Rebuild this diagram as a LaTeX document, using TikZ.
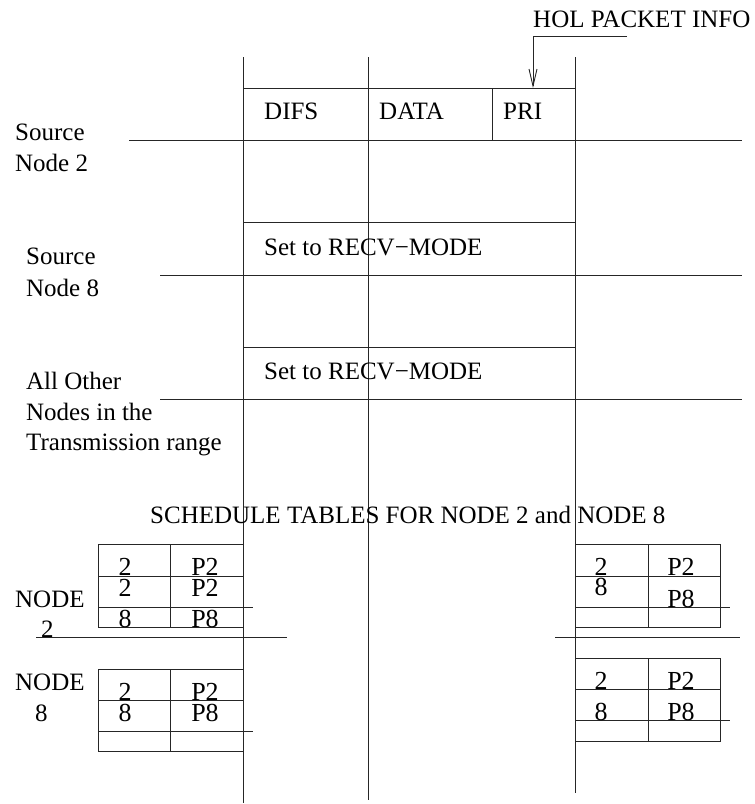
\documentclass[tikz,border=0pt]{standalone}
\usepackage{fontspec}
\setmainfont{Liberation Serif}
\usetikzlibrary{arrows.meta}
\begin{document}
\begin{tikzpicture}[x=1pt,y=-1pt,
  txt/.style={anchor=base west,inner sep=0pt,font=\fontsize{25}{29}\selectfont},
  ctxt/.style={anchor=base,inner sep=0pt,font=\fontsize{26}{30}\selectfont},
  ln/.style={line width=0.9pt,black!85},
  arr/.style={ln,-{Straight Barb[length=17pt,width=8pt]}}]
\useasboundingbox (0,0) rectangle (755,804);
% time lines (vertical)
\draw[ln] (243,57) -- (243,803);
\draw[ln] (368,57) -- (368,800);
\draw[ln] (575,57) -- (575,793);
% Source node 2 row
\draw[ln] (243,88) rectangle (575,140);
\draw[ln] (492,88) -- (492,140);
\draw[ln] (129,140) -- (742,140);
% Source node 8 row
\draw[ln] (243,222) rectangle (575,275);
\draw[ln] (160,275) -- (742,275);
% All other nodes row
\draw[ln] (243,347) rectangle (575,399);
\draw[ln] (160,399) -- (742,399);
% HOL arrow
\node[txt] (hol) at (533,27) {HOL PACKET INFO};
\coordinate (holA) at (627,36);
\coordinate (holB) at (533,36);
\coordinate (pritop) at (533,88);
\draw[arr] (holA) -- (holB) -- (pritop);
% box texts
\node[txt] (difs) at (264,119) {DIFS};
\node[txt] (data) at (379,119) {DATA};
\node[txt] (pri) at (503,119) {PRI};
\node[txt] (recv1) at (264,255) {Set to RECV−MODE};
\node[txt] (recv2) at (264,379) {Set to RECV−MODE};
% row labels
\node[txt] (s2a) at (15,140) {Source};
\node[txt] (s2b) at (15,171) {Node 2};
\node[txt] (s8a) at (26,264) {Source};
\node[txt] (s8b) at (26,296) {Node 8};
\node[txt] (oa) at (26,389) {All Other};
\node[txt] (ob) at (26,420) {Nodes in the};
\node[txt] (oc) at (26,450) {Transmission range};
% schedule title
\node[txt] (sched) at (150,523) {SCHEDULE TABLES FOR NODE 2 and NODE 8};
% node labels
\node[txt] (n2a) at (15,607) {NODE};
\node[txt] (n2b) at (41,637) {2};
\node[txt] (n8a) at (15,690) {NODE};
\node[txt] (n8b) at (35,721) {8};
\draw[ln] (36,637) -- (287,637);
\draw[ln] (555,637) -- (740,637);
% left table node 2
\draw[ln] (98,544) rectangle (243,627);
\draw[ln] (170,544) -- (170,627);
\draw[ln] (98,576) -- (243,576);
\draw[ln] (98,607) -- (253,607);
\node[ctxt] (l2a) at (125,575) {2};
\node[ctxt] (l2b) at (205,575) {P2};
\node[ctxt] (l2c) at (125,596) {2};
\node[ctxt] (l2d) at (205,596) {P2};
\node[ctxt] (l2e) at (125,627) {8};
\node[ctxt] (l2f) at (205,627) {P8};
% right table node 2
\draw[ln] (575,544) rectangle (720,627);
\draw[ln] (648,544) -- (648,627);
\draw[ln] (575,576) -- (720,576);
\draw[ln] (575,607) -- (730,607);
\node[ctxt] (r2a) at (601,575) {2};
\node[ctxt] (r2b) at (681,575) {P2};
\node[ctxt] (r2c) at (601,595) {8};
\node[ctxt] (r2d) at (681,607) {P8};
% left table node 8
\draw[ln] (98,669) rectangle (243,751);
\draw[ln] (170,669) -- (170,751);
\draw[ln] (98,700) -- (243,700);
\draw[ln] (98,731) -- (253,731);
\node[ctxt] (l8a) at (125,700) {2};
\node[ctxt] (l8b) at (205,700) {P2};
\node[ctxt] (l8c) at (125,721) {8};
\node[ctxt] (l8d) at (205,721) {P8};
% right table node 8
\draw[ln] (575,658) rectangle (720,741);
\draw[ln] (648,658) -- (648,741);
\draw[ln] (575,689) -- (720,689);
\draw[ln] (575,720) -- (730,720);
\node[ctxt] (r8a) at (601,689) {2};
\node[ctxt] (r8b) at (681,689) {P2};
\node[ctxt] (r8c) at (601,720) {8};
\node[ctxt] (r8d) at (681,720) {P8};
\end{tikzpicture}
\end{document}
